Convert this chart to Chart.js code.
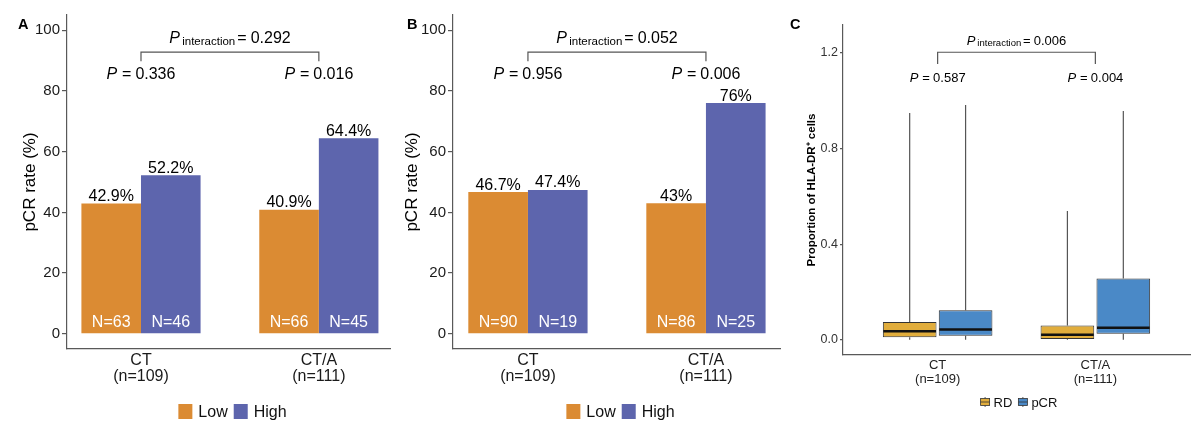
<!DOCTYPE html>
<html><head><meta charset="utf-8">
<script src="https://cdn.jsdelivr.net/npm/chart.js@4/dist/chart.umd.min.js"></script>
<style>
html,body{margin:0;padding:0;background:#fff;}
#wrap{position:relative;width:1200px;height:435px;overflow:hidden;background:#fff;}
.pane{position:absolute;top:0;height:435px;}
canvas{display:block;}
</style></head><body>
<div id="wrap">
 <div class="pane" style="left:0;width:395px"><canvas id="cA"></canvas></div>
 <div class="pane" style="left:395px;width:390px"><canvas id="cB"></canvas></div>
 <div class="pane" style="left:785px;width:415px"><canvas id="cC"></canvas></div>
</div>
<script>
// ---------- data ----------
const categories = ['CT', 'CT/A'];
const groupN = [109, 111];
const barLegend = ['Low', 'High'];
const boxLegend = ['RD', 'pCR'];
const rateTicks = [0, 20, 40, 60, 80, 100];
const propTicks = [0, 0.4, 0.8, 1.2];

// Panel A
const aLowRate = [42.9, 40.9];
const aHighRate = [52.2, 64.4];
const aLowN = [63, 66];
const aHighN = [46, 45];
const aP = ['0.336', '0.016'];
const aPInteraction = '0.292';

// Panel B
const bLowRate = [46.7, 43];
const bHighRate = [47.4, 76];
const bLowN = [90, 86];
const bHighN = [19, 25];
const bP = ['0.956', '0.006'];
const bPInteraction = '0.052';

// Panel C (box plot statistics)
const rdMin = [0, 0];
const rdQ1 = [0.010, 0.003];
const rdMedian = [0.035, 0.021];
const rdQ3 = [0.074, 0.059];
const rdMax = [0.949, 0.539];
const pcrMin = [0, 0];
const pcrQ1 = [0.017, 0.025];
const pcrMedian = [0.043, 0.050];
const pcrQ3 = [0.123, 0.256];
const pcrMax = [0.982, 0.957];
const cP = ['0.587', '0.004'];
const cPInteraction = '0.006';

// ---------- styling ----------
const FONT = "'Liberation Sans', Arial, Helvetica, sans-serif";
const LOW_COLOR = '#DB8B33';
const HIGH_COLOR = '#5D65AD';
const RD_COLOR = '#E1AD3C';
const PCR_COLOR = '#4A89C7';
const AXIS_COLOR = '#595959';

Chart.defaults.font.family = FONT;
Chart.defaults.animation = false;
Chart.defaults.responsive = true;
Chart.defaults.maintainAspectRatio = false;

function drawP(ctx, cx, baseline, value, size, subSize, subText) {
  ctx.save();
  ctx.textBaseline = 'alphabetic';
  ctx.textAlign = 'left';
  ctx.fillStyle = '#000';
  const fMain = size + 'px ' + FONT, fItal = 'italic ' + size + 'px ' + FONT;
  const parts = [];
  if (subText) {
    parts.push({t: 'P', f: fItal, dy: 0, g: size * 0.15});
    parts.push({t: subText, f: subSize + 'px ' + FONT, dy: size * 0.12, g: size * 0.13});
  } else {
    parts.push({t: 'P', f: fItal, dy: 0, g: size * 0.3});
  }
  parts.push({t: '=', f: fMain, dy: 0, g: size * 0.25});
  parts.push({t: value, f: fMain, dy: 0, g: 0});
  let total = 0;
  parts.forEach(p => { ctx.font = p.f; p.w = ctx.measureText(p.t).width; total += p.w + p.g; });
  let x = cx - total / 2;
  parts.forEach(p => { ctx.font = p.f; ctx.fillText(p.t, x, baseline + p.dy); x += p.w + p.g; });
  ctx.restore();
}

function drawBoxIcon(ctx, x, yc, w, h, color) {
  ctx.fillStyle = color;
  ctx.fillRect(x, yc - h / 2, w, h);
  ctx.strokeStyle = '#333';
  ctx.lineWidth = 0.8;
  ctx.strokeRect(x, yc - h / 2, w, h);
  ctx.beginPath();
  ctx.moveTo(x, yc); ctx.lineTo(x + w, yc);
  ctx.moveTo(x + w / 2, yc - h / 2); ctx.lineTo(x + w / 2, yc - h / 2 - 1.5);
  ctx.moveTo(x + w / 2, yc + h / 2); ctx.lineTo(x + w / 2, yc + h / 2 + 1.5);
  ctx.stroke();
}

function drawLegend(ctx, chart, L) {
  const items = chart.data.datasets.map(ds => ({text: ds.label, color: ds.backgroundColor}));
  ctx.save();
  ctx.font = L.size + 'px ' + FONT;
  let total = 0;
  items.forEach((it, i) => {
    it.w = ctx.measureText(it.text).width;
    total += L.sw + L.gap + it.w + (i < items.length - 1 ? L.itemGap : 0);
  });
  const ca = chart.chartArea;
  let x = (ca.left + ca.right) / 2 + L.dx - total / 2;
  items.forEach(it => {
    if (L.kind === 'box') {
      drawBoxIcon(ctx, x, L.y, L.sw, L.sh, it.color);
    } else {
      ctx.fillStyle = it.color;
      ctx.fillRect(x, L.y - L.sh / 2, L.sw, L.sh);
    }
    x += L.sw + L.gap;
    ctx.fillStyle = '#111';
    ctx.textAlign = 'left';
    ctx.textBaseline = 'middle';
    ctx.font = L.size + 'px ' + FONT;
    ctx.fillText(it.text, x, L.y + 1);
    x += it.w + L.itemGap;
  });
  ctx.restore();
}

function makeDeco(cfg) {
  return {
    id: 'deco_' + cfg.letter,
    beforeDatasetsDraw(chart) {
      if (!cfg.boxes) return;
      const ctx = chart.ctx, ys = chart.scales.y;
      ctx.save();
      ctx.strokeStyle = '#555';
      ctx.lineWidth = 1.2;
      chart.data.datasets.forEach((ds, di) => {
        const meta = chart.getDatasetMeta(di);
        meta.data.forEach((el, j) => {
          const st = ds.stats;
          ctx.beginPath();
          ctx.moveTo(el.x, ys.getPixelForValue(st.max[j]));
          ctx.lineTo(el.x, ys.getPixelForValue(ds.data[j].y[1]));
          ctx.moveTo(el.x, ys.getPixelForValue(ds.data[j].y[0]));
          ctx.lineTo(el.x, ys.getPixelForValue(st.min[j]));
          ctx.stroke();
        });
      });
      ctx.restore();
    },
    afterDatasetsDraw(chart) {
      if (!cfg.boxes) return;
      const ctx = chart.ctx, ys = chart.scales.y;
      ctx.save();
      ctx.strokeStyle = '#111';
      ctx.lineWidth = 2.5;
      chart.data.datasets.forEach((ds, di) => {
        const meta = chart.getDatasetMeta(di);
        meta.data.forEach((el, j) => {
          const y = ys.getPixelForValue(ds.stats.med[j]);
          ctx.beginPath();
          ctx.moveTo(el.x - el.width / 2 + 0.5, y);
          ctx.lineTo(el.x + el.width / 2 - 0.5, y);
          ctx.stroke();
        });
      });
      ctx.restore();
    },
    afterDraw(chart) {
      const ctx = chart.ctx, xs = chart.scales.x, ys = chart.scales.y;
      ctx.save();
      // panel letter
      ctx.font = 'bold ' + cfg.letterSize + 'px ' + FONT;
      ctx.fillStyle = '#000';
      ctx.textAlign = 'left';
      ctx.textBaseline = 'alphabetic';
      ctx.fillText(cfg.letter, cfg.letterX, cfg.letterY);
      // bar value labels and N labels
      if (cfg.barLabels) {
        chart.data.datasets.forEach((ds, di) => {
          const meta = chart.getDatasetMeta(di);
          meta.data.forEach((el, j) => {
            ctx.textAlign = 'center';
            ctx.textBaseline = 'alphabetic';
            ctx.font = cfg.labelSize + 'px ' + FONT;
            ctx.fillStyle = '#000';
            ctx.fillText(String(ds.data[j].y) + '%', el.x, el.y - 2.5);
            ctx.fillStyle = '#fff';
            ctx.fillText('N=' + ds.nLabels[j], el.x, el.base - 6);
          });
        });
      }
      // bracket
      const x1 = xs.getPixelForValue(1), x2 = xs.getPixelForValue(2);
      const yb = ys.getPixelForValue(cfg.bracketY), ye = ys.getPixelForValue(cfg.bracketEndY);
      ctx.strokeStyle = '#555';
      ctx.lineWidth = 1.2;
      ctx.beginPath();
      ctx.moveTo(x1, ye); ctx.lineTo(x1, yb); ctx.lineTo(x2, yb); ctx.lineTo(x2, ye);
      ctx.stroke();
      drawP(ctx, (x1 + x2) / 2, ys.getPixelForValue(cfg.intY), cfg.pInt, cfg.pSize, cfg.subSize, 'interaction');
      cfg.p.forEach((p, i) => drawP(ctx, xs.getPixelForValue(i + 1), ys.getPixelForValue(cfg.pY), p, cfg.pSize, 0, null));
      // legend
      drawLegend(ctx, chart, cfg.legend);
      ctx.restore();
    }
  };
}

function barChart(id, d) {
  const canvas = document.getElementById(id);
  const W = canvas.parentNode.clientWidth, H = 435;
  return new Chart(canvas, {
    type: 'bar',
    data: {
      datasets: [
        {label: barLegend[0], data: d.low.map((v, i) => ({x: i + 1, y: v})), backgroundColor: LOW_COLOR,
         nLabels: d.lowN, categoryPercentage: 0.67, barPercentage: 1, borderWidth: 0},
        {label: barLegend[1], data: d.high.map((v, i) => ({x: i + 1, y: v})), backgroundColor: HIGH_COLOR,
         nLabels: d.highN, categoryPercentage: 0.67, barPercentage: 1, borderWidth: 0}
      ]
    },
    options: {
      layout: {padding: {left: d.padL, right: W - d.area.right, top: d.area.top, bottom: 0}},
      scales: {
        x: {
          type: 'linear', min: d.xMin, max: d.xMax, offset: false, bounds: 'data',
          afterBuildTicks: s => { s.ticks = categories.map((c, i) => ({value: i + 1})); },
          afterFit: s => { s.height = H - d.area.bottom; },
          grid: {display: false, drawTicks: false, offset: false},
          border: {display: true, color: AXIS_COLOR, width: 1.2},
          ticks: {
            callback: v => [categories[v - 1], '(n=' + groupN[v - 1] + ')'],
            font: {size: 16, lineHeight: 1.0}, color: '#1a1a1a', padding: 4, maxRotation: 0, autoSkip: false
          }
        },
        y: {
          type: 'linear', min: -5, max: 105,
          afterBuildTicks: s => { s.ticks = rateTicks.map(v => ({value: v})); },
          afterFit: s => { s.width = d.area.left - d.padL; },
          grid: {display: true, drawOnChartArea: false, drawTicks: true, tickLength: 5, color: AXIS_COLOR, lineWidth: 1.2},
          border: {display: true, color: AXIS_COLOR, width: 1.2},
          ticks: {font: {size: 15}, color: '#1a1a1a', padding: 2},
          title: {display: true, text: 'pCR rate (%)', font: {size: 17, lineHeight: 1.2}, color: '#000', padding: 0}
        }
      },
      plugins: {legend: {display: false}, tooltip: {enabled: false}}
    },
    plugins: [makeDeco({
      letter: d.letter, letterX: d.letterX, letterY: 29, letterSize: 14.5,
      barLabels: true, labelSize: 16,
      bracketY: 92.8, bracketEndY: 89.8, intY: 95.7, pY: 83.9,
      pInt: d.pInt, p: d.p, pSize: 16, subSize: 11.5,
      legend: {kind: 'square', sw: 14, sh: 15, gap: 6, itemGap: 6, size: 16, y: 411.5, dx: 4}
    })]
  });
}

barChart('cA', {
  low: aLowRate, high: aHighRate, lowN: aLowN, highN: aHighN, p: aP, pInt: aPInteraction,
  letter: 'A', letterX: 18, padL: 20, xMin: 0.584, xMax: 2.4,
  area: {left: 67, right: 390, top: 15, bottom: 349}
});
barChart('cB', {
  low: bLowRate, high: bHighRate, lowN: bLowN, highN: bHighN, p: bP, pInt: bPInteraction,
  letter: 'B', letterX: 12, padL: 7, xMin: 0.579, xMax: 2.416,
  area: {left: 58, right: 385, top: 15, bottom: 349}
});

(function boxChart() {
  const canvas = document.getElementById('cC');
  const W = canvas.parentNode.clientWidth, H = 435;
  const area = {left: 58, right: 405, top: 25, bottom: 355};
  const padL = 20;
  new Chart(canvas, {
    type: 'bar',
    data: {
      datasets: [
        {label: boxLegend[0], data: rdQ1.map((q, i) => ({x: i + 1, y: [q, rdQ3[i]]})),
         backgroundColor: RD_COLOR, borderColor: '#333', borderWidth: 1, borderSkipped: false,
         categoryPercentage: 0.709, barPercentage: 0.96,
         stats: {min: rdMin, med: rdMedian, max: rdMax}},
        {label: boxLegend[1], data: pcrQ1.map((q, i) => ({x: i + 1, y: [q, pcrQ3[i]]})),
         backgroundColor: PCR_COLOR, borderColor: '#333', borderWidth: 1, borderSkipped: false,
         categoryPercentage: 0.709, barPercentage: 0.96,
         stats: {min: pcrMin, med: pcrMedian, max: pcrMax}}
      ]
    },
    options: {
      layout: {padding: {left: padL, right: W - area.right, top: area.top, bottom: 0}},
      scales: {
        x: {
          type: 'linear', min: 0.4, max: 2.6, offset: false, bounds: 'data',
          afterBuildTicks: s => { s.ticks = categories.map((c, i) => ({value: i + 1})); },
          afterFit: s => { s.height = H - area.bottom; },
          grid: {display: false, drawTicks: false, offset: false},
          border: {display: true, color: AXIS_COLOR, width: 1.2},
          ticks: {
            callback: v => [categories[v - 1], '(n=' + groupN[v - 1] + ')'],
            font: {size: 13, lineHeight: 1.08}, color: '#222', padding: 3, maxRotation: 0, autoSkip: false
          }
        },
        y: {
          type: 'linear', min: -0.064, max: 1.317,
          afterBuildTicks: s => { s.ticks = propTicks.map(v => ({value: v})); },
          afterFit: s => { s.width = area.left - padL; },
          grid: {display: true, drawOnChartArea: false, drawTicks: true, tickLength: 3, color: AXIS_COLOR, lineWidth: 1.2},
          border: {display: true, color: AXIS_COLOR, width: 1.2},
          ticks: {font: {size: 12.5}, color: '#333', padding: 2, callback: v => Number(v).toFixed(1)},
          title: {display: true, text: 'Proportion of HLA-DR\u207A cells', font: {size: 11.5, weight: 'bold', lineHeight: 1.2}, color: '#000', padding: 0}
        }
      },
      plugins: {legend: {display: false}, tooltip: {enabled: false}}
    },
    plugins: [makeDeco({
      letter: 'C', letterX: 5, letterY: 29, letterSize: 14.5,
      boxes: true, barLabels: false,
      bracketY: 1.203, bracketEndY: 1.154, intY: 1.234, pY: 1.079,
      pInt: cPInteraction, p: cP, pSize: 13, subSize: 9.5,
      legend: {kind: 'box', sw: 9, sh: 7, gap: 4, itemGap: 6, size: 13, y: 402, dx: 2.5}
    })]
  });
})();
</script>
</body></html>
